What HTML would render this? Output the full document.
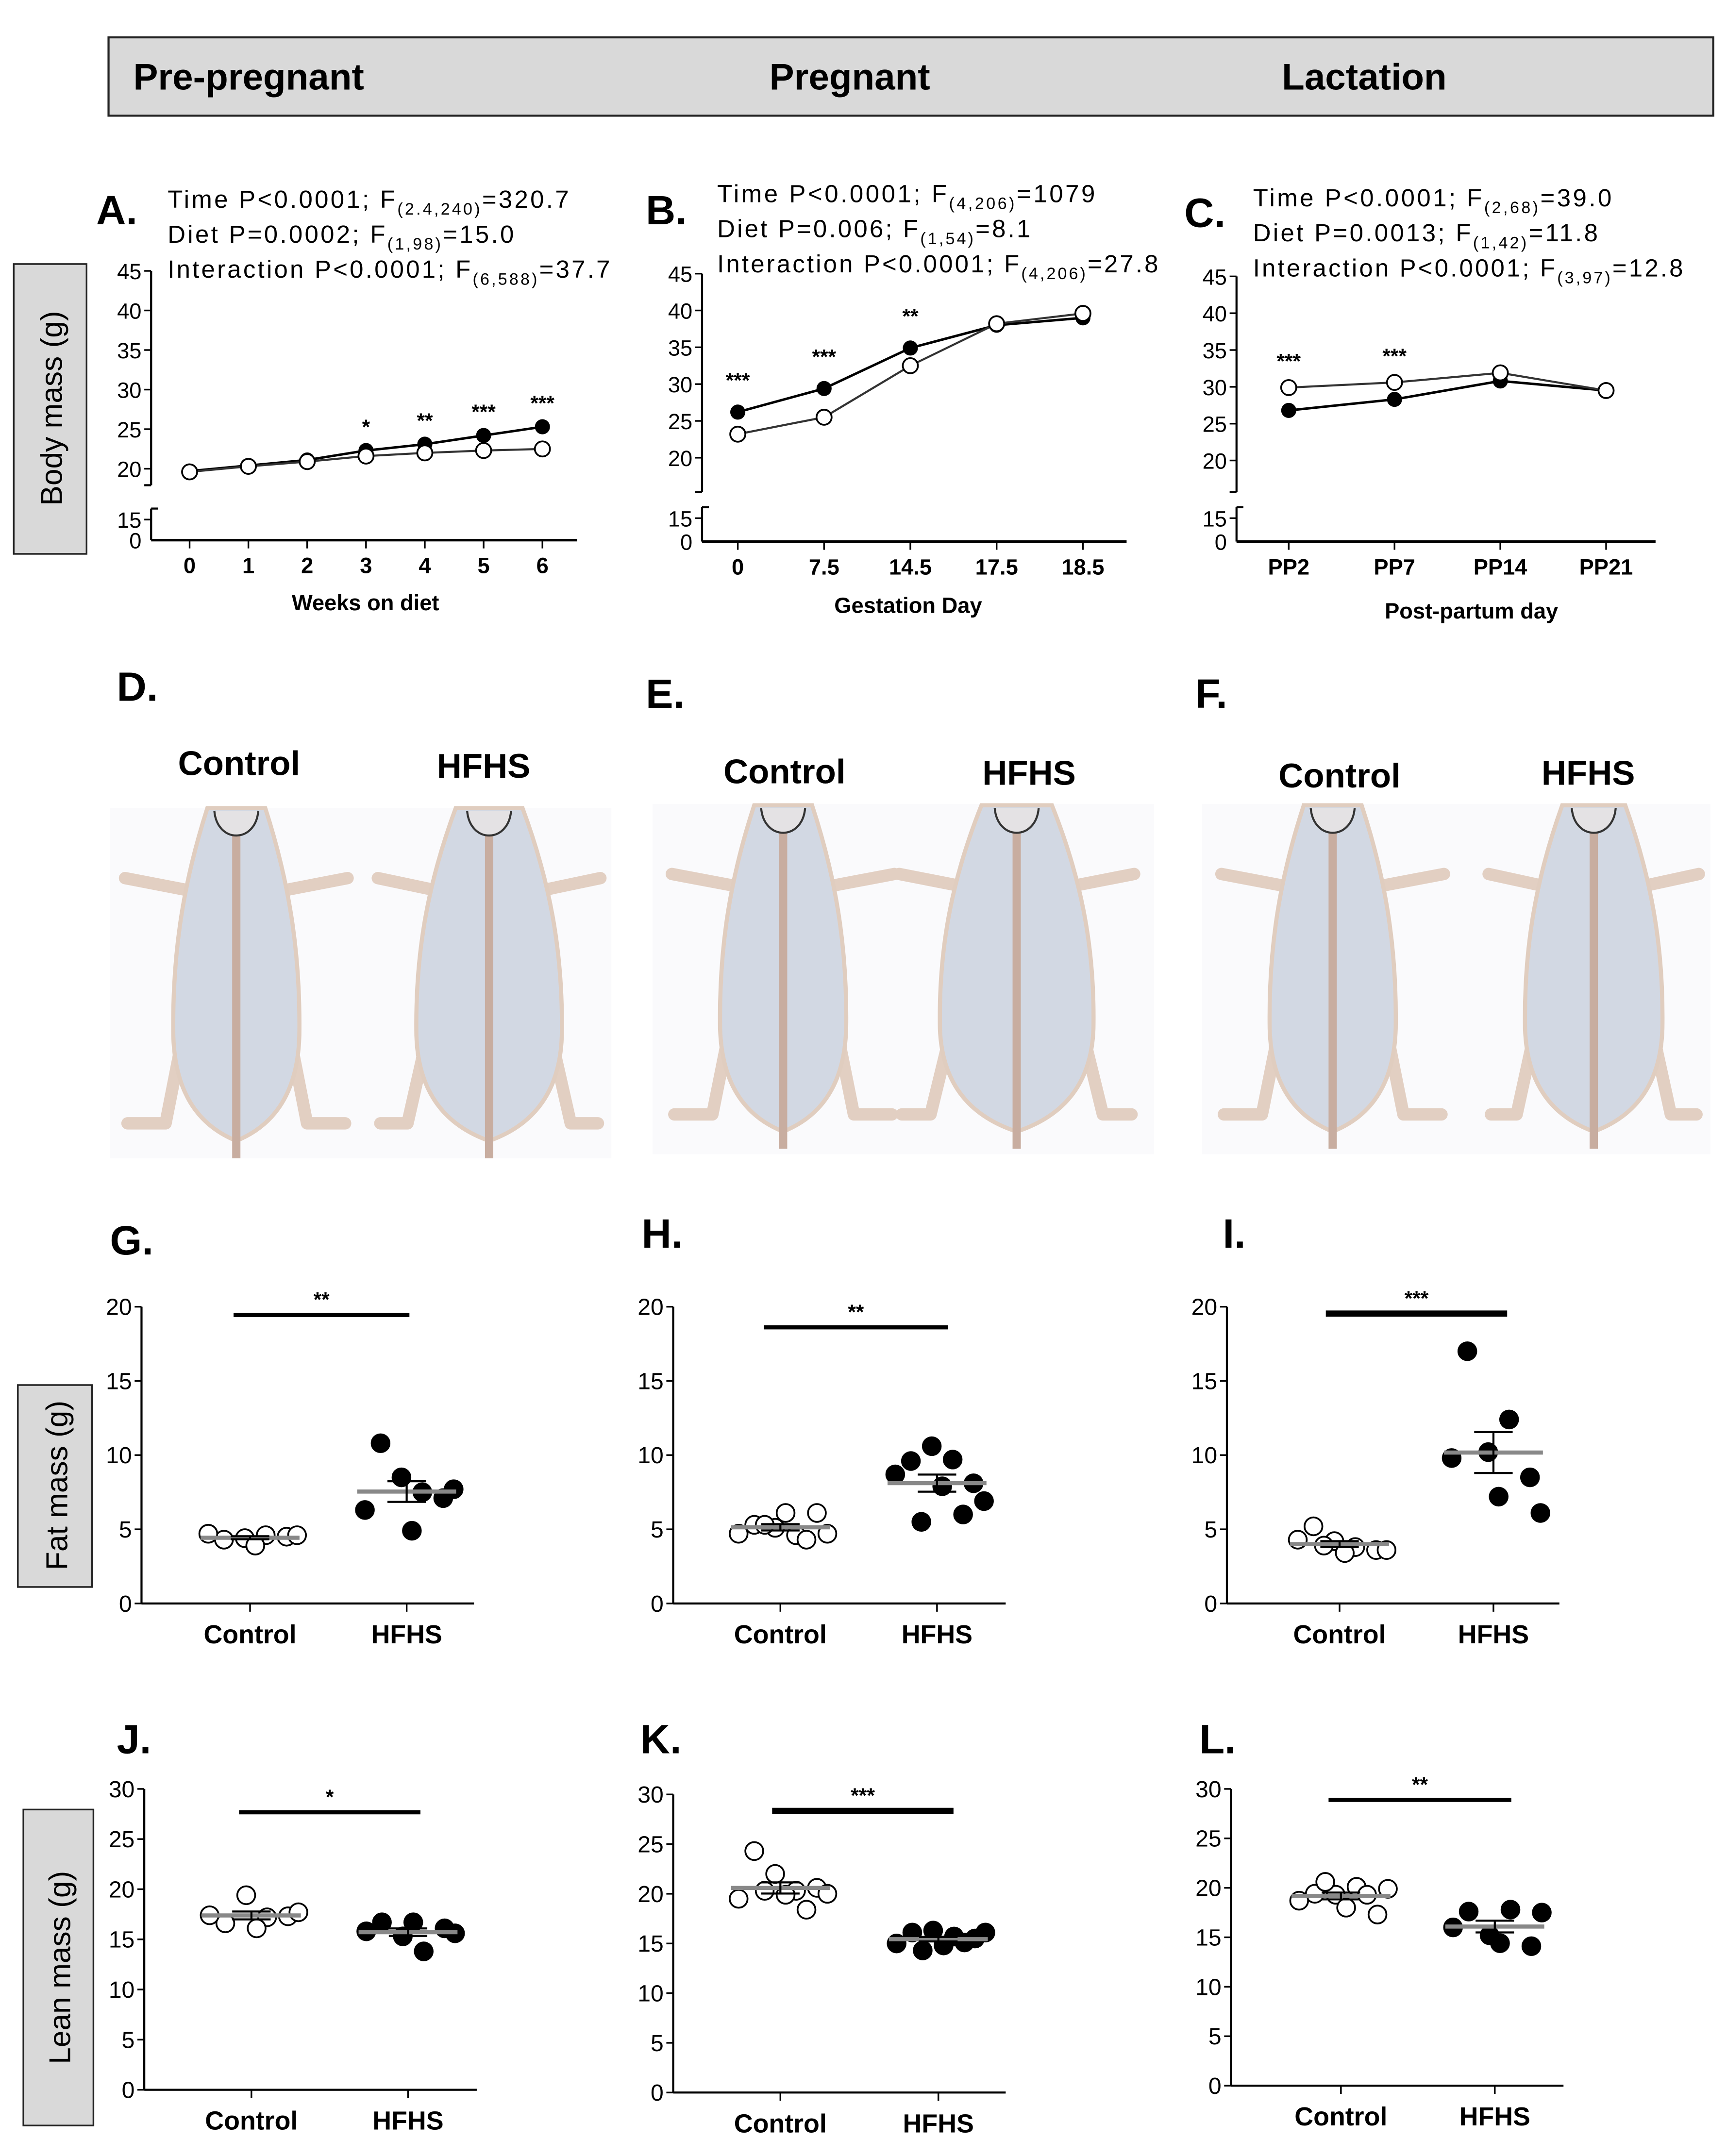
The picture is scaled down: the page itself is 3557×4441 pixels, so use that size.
<!DOCTYPE html>
<html><head><meta charset="utf-8"><style>
html,body{margin:0;padding:0;background:#fff;}
svg{display:block;}
text{font-family:"Liberation Sans",Arial,sans-serif;}
</style></head><body>
<svg id="fig" width="3557" height="4441" viewBox="0 0 1257 1569" xmlns="http://www.w3.org/2000/svg">
<rect width="1257" height="1569" fill="#fff"/>
<g>
<rect x="79" y="27" width="1168" height="57" fill="#d9d9d9" stroke="#222" stroke-width="1.5"/>
<text x="97" y="65" font-size="27" font-weight="bold">Pre-pregnant</text>
<text x="560" y="65" font-size="27" font-weight="bold">Pregnant</text>
<text x="933" y="65" font-size="27" font-weight="bold">Lactation</text>
</g>
<g>
<rect x="10" y="192" width="53" height="211" fill="#d9d9d9" stroke="#222" stroke-width="1.2"/>
<text transform="translate(45,297) rotate(-90)" text-anchor="middle" font-size="22">Body mass (g)</text>
</g>
<g>
<rect x="13" y="1008" width="54" height="147" fill="#d9d9d9" stroke="#222" stroke-width="1.2"/>
<text transform="translate(49,1081) rotate(-90)" text-anchor="middle" font-size="22">Fat mass (g)</text>
</g>
<g>
<rect x="17" y="1317" width="51" height="230" fill="#d9d9d9" stroke="#222" stroke-width="1.2"/>
<text transform="translate(51,1432) rotate(-90)" text-anchor="middle" font-size="22">Lean mass (g)</text>
</g>
<g id="layer"></g>
</svg>
<script>
// ---- Line chart data ----
const catsA = ['0','1','2','3','4','5','6'];
const hfhsA = [19.7,20.4,21.1,22.3,23.1,24.2,25.3];
const ctrlA = [19.6,20.3,20.9,21.6,22.0,22.3,22.5];
const starsA = ['','','','*','**','***','***'];
const catsB = ['0','7.5','14.5','17.5','18.5'];
const hfhsB = [26.2,29.4,34.9,38.0,39.0];
const ctrlB = [23.2,25.5,32.5,38.2,39.6];
const starsB = ['***','***','**','',''];
const catsC = ['PP2','PP7','PP14','PP21'];
const hfhsC = [26.8,28.3,30.8,29.5];
const ctrlC = [29.9,30.6,31.9,29.5];
const starsC = ['***','***','',''];
const bodyTicks = [20,25,30,35,40,45];
// ---- Scatter data ----
const fatTicks = [0,5,10,15,20];
const leanTicks = [0,5,10,15,20,25,30];
const ctrlG = [4.3,4.6,4.4,4.5,4.7,3.9,4.6];
const hfhsG = [10.8,7.5,8.5,7.1,6.3,4.9,7.7];
const ctrlH = [5.3,4.6,5.1,6.1,4.7,6.1,4.7,5.3,4.3];
const hfhsH = [9.6,9.7,10.6,8.1,8.7,7.9,6.9,5.5,6.0];
const ctrlI = [5.2,3.8,4.2,3.6,4.3,3.4,3.6,3.9];
const hfhsI = [17.0,12.4,10.2,8.5,9.8,7.2,6.1];
const ctrlJ = [16.6,17.2,19.4,17.3,17.4,16.1,17.7];
const hfhsJ = [16.7,13.8,15.3,16.1,15.8,16.7,15.6];
const ctrlK = [24.3,20.3,22.0,20.6,19.5,19.9,20.0,20.3,18.4];
const hfhsK = [16.1,15.7,16.3,15.5,15.0,14.8,16.1,14.3,15.1];
const ctrlL = [19.4,20.1,19.3,17.3,18.7,18.0,19.9,20.6,19.3];
const hfhsL = [17.6,17.8,15.2,14.1,16.0,14.4,17.5];

const NS='http://www.w3.org/2000/svg';
const layer=document.getElementById('layer');
function mk(tag,attrs,parent,txt){const e=document.createElementNS(NS,tag);for(const k in attrs)e.setAttribute(k,attrs[k]);if(txt!==undefined)e.textContent=txt;(parent||layer).appendChild(e);return e;}

function lineChart(o){
  const g=mk('g',{});
  
  
  const y=v=>o.y20-(v-20)*o.per5/5;
  const x=i=>o.x0+i*o.dx;
  mk('line',{x1:o.ax,y1:y(45),x2:o.ax,y2:o.brk-4,stroke:'#000','stroke-width':1.5},g);
  mk('line',{x1:o.ax,y1:o.y15-8,x2:o.ax,y2:o.y0,stroke:'#000','stroke-width':1.5},g);
  mk('line',{x1:o.ax-5,y1:o.brk-4,x2:o.ax,y2:o.brk-4,stroke:'#000','stroke-width':1.5},g);
  mk('line',{x1:o.ax,y1:o.y15-8,x2:o.ax+5,y2:o.y15-8,stroke:'#000','stroke-width':1.5},g);
  mk('line',{x1:o.ax,y1:o.y0,x2:o.axEnd,y2:o.y0,stroke:'#000','stroke-width':1.8},g);
  bodyTicks.forEach(t=>{mk('line',{x1:o.ax-5,y1:y(t),x2:o.ax,y2:y(t),stroke:'#000','stroke-width':1.2},g);mk('text',{x:o.ax-7,y:y(t)+6,'text-anchor':'end','font-size':16},g,String(t));});
  mk('line',{x1:o.ax-5,y1:o.y15,x2:o.ax,y2:o.y15,stroke:'#000','stroke-width':1.2},g);
  mk('text',{x:o.ax-7,y:o.y15+6,'text-anchor':'end','font-size':16},g,'15');
  mk('text',{x:o.ax-7,y:o.y0+6,'text-anchor':'end','font-size':16},g,'0');
  o.cats.forEach((c,i)=>{mk('line',{x1:x(i),y1:o.y0,x2:x(i),y2:o.y0+6,stroke:'#000','stroke-width':1.2},g);mk('text',{x:x(i),y:o.y0+24,'text-anchor':'middle','font-size':16,'font-weight':'bold'},g,c);});
  mk('text',{x:o.titleX,y:o.titleY,'text-anchor':'middle','font-size':16,'font-weight':'bold'},g,o.title);
  const pts=(arr)=>arr.map((v,i)=>x(i)+','+y(v)).join(' ');
  const l1=mk('polyline',{points:pts(o.hfhs),fill:'none',stroke:'#000','stroke-width':1.8},g);
  
  const l2=mk('polyline',{points:pts(o.ctrl),fill:'none',stroke:'#333','stroke-width':1.5},g);
  
  o.hfhs.forEach((v,i)=>{const c=mk('circle',{cx:x(i),cy:y(v),r:5.5,fill:'#000'},g);});
  o.ctrl.forEach((v,i)=>{const c=mk('circle',{cx:x(i),cy:y(v),r:5.5,fill:'#fff',stroke:'#000','stroke-width':1.3},g);});
  o.stars.forEach((s,i)=>{if(s){const top=Math.max(o.hfhs[i],o.ctrl[i]);mk('text',{x:x(i),y:y(top)-o.starGap,'text-anchor':'middle','font-size':15,'font-weight':'bold'},g,s);}});
  mk('text',{x:o.lx,y:o.ly,'font-size':30,'font-weight':'bold'},g,o.letter);
  o.stats.forEach((s,i)=>{const t=mk('text',{x:o.sx,y:o.sy+i*25.5,'font-size':18,textLength:o.lens[i],lengthAdjust:'spacing'},g);mk('tspan',{},t,s[0]);mk('tspan',{'font-size':12,dy:5},t,s[1]);mk('tspan',{dy:-5},t,s[2]);});
}
lineChart({name:'chart-a',cats:catsA,hfhs:hfhsA,ctrl:ctrlA,stars:starsA,ax:110,axEnd:420,x0:138,dx:42.8,y20:341,per5:28.8,brk:357,y15:378,y0:393,title:'Weeks on diet',titleX:266,titleY:444,starGap:12,letter:'A.',lx:70,ly:163,sx:122,sy:151,lens:[292,252,322],
 stats:[['Time P<0.0001;  F','(2.4,240)','=320.7'],['Diet P=0.0002;  F','(1,98)','=15.0'],['Interaction  P<0.0001;  F','(6,588)','=37.7']]});
lineChart({name:'chart-b',cats:catsB,hfhs:hfhsB,ctrl:ctrlB,stars:starsB,ax:511,axEnd:820,x0:537,dx:62.8,y20:333,per5:26.8,brk:362,y15:377,y0:394,title:'Gestation Day',titleX:661,titleY:446,starGap:18,letter:'B.',lx:470,ly:163,sx:522,sy:147,lens:[275,228,321],
 stats:[['Time P<0.0001;  F','(4,206)','=1079'],['Diet P=0.006;  F','(1,54)','=8.1'],['Interaction  P<0.0001;  F','(4,206)','=27.8']]});
lineChart({name:'chart-c',cats:catsC,hfhs:hfhsC,ctrl:ctrlC,stars:starsC,ax:900,axEnd:1205,x0:938,dx:77,y20:335,per5:26.8,brk:362,y15:377,y0:394,title:'Post-partum day',titleX:1071,titleY:450,starGap:14,letter:'C.',lx:862,ly:165,sx:912,sy:150,lens:[261,251,313],
 stats:[['Time P<0.0001;  F','(2,68)','=39.0'],['Diet P=0.0013;  F','(1,42)','=11.8'],['Interaction  P<0.0001;  F','(3,97)','=12.8']]});

// ---- Mouse photos ----
function mouse(cx,top,w,h,fat){
  const g=mk('g',{});
  
  
  const bw=w*(0.26+fat*0.04), limb='#e2cfc2';
  mk('path',{d:`M${cx-bw*0.6},${top+h*0.24} L${cx-w*0.45},${top+h*0.2} M${cx+bw*0.6},${top+h*0.24} L${cx+w*0.45},${top+h*0.2}`,stroke:limb,'stroke-width':9,'stroke-linecap':'round',fill:'none'},g);
  mk('path',{d:`M${cx-bw*0.8},${top+h*0.62} L${cx-bw*1.1},${top+h*0.9} L${cx-w*0.44},${top+h*0.9} M${cx+bw*0.8},${top+h*0.62} L${cx+bw*1.1},${top+h*0.9} L${cx+w*0.44},${top+h*0.9}`,stroke:limb,'stroke-width':9,'stroke-linecap':'round','stroke-linejoin':'round',fill:'none'},g);
  mk('path',{d:`M${cx-bw*0.45},${top} L${cx+bw*0.45},${top} C${cx+bw*0.8},${top+h*0.2} ${cx+bw*1.0},${top+h*0.4} ${cx+bw*0.98},${top+h*0.65} C${cx+bw*0.95},${top+h*0.85} ${cx+bw*0.4},${top+h*0.92} ${cx},${top+h*0.95} C${cx-bw*0.4},${top+h*0.92} ${cx-bw*0.95},${top+h*0.85} ${cx-bw*0.98},${top+h*0.65} C${cx-bw*1.0},${top+h*0.4} ${cx-bw*0.8},${top+h*0.2} ${cx-bw*0.45},${top} Z`,fill:'#d2d8e3',stroke:'#e0cdbf','stroke-width':3},g);
  mk('line',{x1:cx,y1:top+h*0.05,x2:cx,y2:top+h*1.0,stroke:'#c8ada0','stroke-width':6},g);
  mk('path',{d:`M${cx-16},${top+2} C${cx-14},${top+26} ${cx+14},${top+26} ${cx+16},${top+2}`,fill:'#e4e2e4',stroke:'#333','stroke-width':1.5},g);
}
mk('rect',{x:80,y:588,width:365,height:255,fill:'#fafafc'});
mk('rect',{x:475,y:585,width:365,height:255,fill:'#fafafc'});
mk('rect',{x:875,y:585,width:370,height:255,fill:'#fafafc'});
mouse(172,588,180,255,0);mouse(356,588,180,255,1);
mouse(570,586,180,250,0);mouse(740,586,190,250,1);
mouse(970,586,180,250,0);mouse(1160,586,170,250,1);
[['D.',85,510],['E.',470,515],['F.',870,515]].forEach(a=>{const t=mk('text',{x:a[1],y:a[2],'font-size':30,'font-weight':'bold'},layer,a[0]);});
[['Control',174,564],['HFHS',352,566],['Control',571,570],['HFHS',749,571],['Control',975,573],['HFHS',1156,571]].forEach(a=>{const t=mk('text',{x:a[1],y:a[2],'text-anchor':'middle','font-size':25,'font-weight':'bold'},layer,a[0]);});

// ---- Scatter charts ----
const jitPattern=[-0.5,0.3,-0.1,0.7,-0.8,0.1,0.9,-0.3,0.5];
function jit(i){return 38*jitPattern[i%jitPattern.length];}
function mean(a){return a.reduce((s,v)=>s+v,0)/a.length;}
function sem(a){const m=mean(a);return Math.sqrt(a.reduce((s,v)=>s+(v-m)*(v-m),0)/(a.length-1))/Math.sqrt(a.length);}
function scatter(o){
  const g=mk('g',{});
  
  
  const max=o.ticks[o.ticks.length-1];
  const y=v=>o.y0-(v/max)*(o.y0-o.yTop);
  mk('line',{x1:o.ax,y1:o.yTop,x2:o.ax,y2:o.y0,stroke:'#000','stroke-width':1.5},g);
  mk('line',{x1:o.ax,y1:o.y0,x2:o.axEnd,y2:o.y0,stroke:'#000','stroke-width':1.5},g);
  o.ticks.forEach(t=>{mk('line',{x1:o.ax-5,y1:y(t),x2:o.ax,y2:y(t),stroke:'#000','stroke-width':1.2},g);mk('text',{x:o.ax-7,y:y(t)+6,'text-anchor':'end','font-size':17},g,String(t));});
  [[o.xc,'Control'],[o.xh,'HFHS']].forEach(a=>{mk('line',{x1:a[0],y1:o.y0,x2:a[0],y2:o.y0+6,stroke:'#000','stroke-width':1.2},g);mk('text',{x:a[0],y:o.y0+29,'text-anchor':'middle','font-size':19,'font-weight':'bold'},g,a[1]);});
  [[o.ctrl,o.xc,false],[o.hfhs,o.xh,true]].forEach(([arr,cx,filled])=>{
    const m=mean(arr),s=sem(arr);
    arr.forEach((v,i)=>{const c=mk('circle',{cx:cx+jit(i),cy:y(v),r:6.5,fill:filled?'#000':'#fff',stroke:'#000','stroke-width':1.3},g);});
    mk('line',{x1:cx-36,y1:y(m),x2:cx+36,y2:y(m),stroke:'#888','stroke-width':3},g);
    mk('line',{x1:cx,y1:y(m-s),x2:cx,y2:y(m+s),stroke:'#000','stroke-width':1.5},g);
    mk('line',{x1:cx-14,y1:y(m+s),x2:cx+14,y2:y(m+s),stroke:'#000','stroke-width':1.5},g);
    mk('line',{x1:cx-14,y1:y(m-s),x2:cx+14,y2:y(m-s),stroke:'#000','stroke-width':1.5},g);
  });
  mk('line',{x1:o.b1,y1:o.by,x2:o.b2,y2:o.by,stroke:'#000','stroke-width':o.bw},g);
  mk('text',{x:(o.b1+o.b2)/2,y:o.by-6,'text-anchor':'middle','font-size':15,'font-weight':'bold'},g,o.star);
  mk('text',{x:o.lx,y:o.ly,'font-size':30,'font-weight':'bold'},g,o.letter);
}
scatter({name:'chart-g',ticks:fatTicks,ctrl:ctrlG,hfhs:hfhsG,ax:103,axEnd:345,yTop:951,y0:1167,xc:182,xh:296,b1:170,b2:298,by:957,bw:3,star:'**',letter:'G.',lx:80,ly:913});
scatter({name:'chart-h',ticks:fatTicks,ctrl:ctrlH,hfhs:hfhsH,ax:490,axEnd:732,yTop:951,y0:1167,xc:568,xh:682,b1:556,b2:690,by:966,bw:3,star:'**',letter:'H.',lx:467,ly:908});
scatter({name:'chart-i',ticks:fatTicks,ctrl:ctrlI,hfhs:hfhsI,ax:893,axEnd:1135,yTop:951,y0:1167,xc:975,xh:1087,b1:965,b2:1097,by:956,bw:4.5,star:'***',letter:'I.',lx:890,ly:908});
scatter({name:'chart-j',ticks:leanTicks,ctrl:ctrlJ,hfhs:hfhsJ,ax:105,axEnd:347,yTop:1302,y0:1521,xc:183,xh:297,b1:174,b2:306,by:1319,bw:3,star:'*',letter:'J.',lx:85,ly:1276});
scatter({name:'chart-k',ticks:leanTicks,ctrl:ctrlK,hfhs:hfhsK,ax:490,axEnd:732,yTop:1306,y0:1523,xc:568,xh:683,b1:562,b2:694,by:1318,bw:4.5,star:'***',letter:'K.',lx:466,ly:1276});
scatter({name:'chart-l',ticks:leanTicks,ctrl:ctrlL,hfhs:hfhsL,ax:896,axEnd:1138,yTop:1302,y0:1518,xc:976,xh:1088,b1:967,b2:1100,by:1310,bw:3,star:'**',letter:'L.',lx:873,ly:1276});
</script>
</body></html>
